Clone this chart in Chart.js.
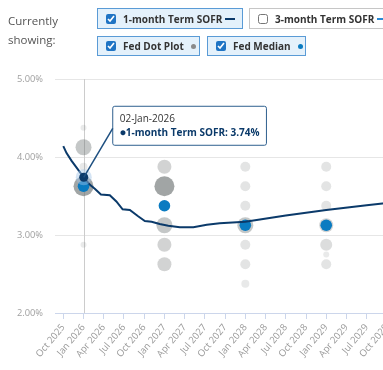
<!DOCTYPE html>
<html><head><meta charset="utf-8">
<script src="https://cdn.jsdelivr.net/npm/chart.js@4"></script>
<style>
html,body{margin:0;padding:0;width:383px;height:370px;overflow:hidden;background:#fff;font-family:"Open Sans",Lato,sans-serif;}
#wrap{position:absolute;left:0;top:0;width:440px;height:370px;}
.cap{position:absolute;left:8px;color:#555;font-size:11.5px;line-height:16px;}
.btn{position:absolute;box-sizing:border-box;border:1px solid #5a9bd6;background:#e4f1fb;font-weight:bold;font-size:10px;color:#333;display:flex;align-items:center;padding-left:8px;white-space:nowrap;}
.btn.off{background:#fff;border-color:#c6c6c6;}
.btn input{width:10px;height:10px;margin:0 7px 0 0;accent-color:#1f74c4;}
.dash{display:inline-block;width:10px;height:2px;margin-left:3px;}
.dot{display:inline-block;width:5px;height:5px;border-radius:50%;margin-left:7px;}
</style></head>
<body>
<div id="wrap"><canvas id="c"></canvas></div>
<div class="cap" style="top:13px">Currently</div>
<div class="cap" style="top:32px">showing:</div>
<div class="btn" style="left:97px;top:8px;width:146px;height:21px"><input type="checkbox" checked>1-month Term SOFR<span class="dash" style="background:#0b3a6a"></span></div>
<div class="btn off" style="left:249px;top:8px;width:150px;height:21px"><input type="checkbox">3-month Term SOFR<span class="dash" style="background:#2b8ad6"></span></div>
<div class="btn" style="left:97px;top:36px;width:103px;height:20px"><input type="checkbox" checked>Fed Dot Plot<span class="dot" style="background:#8a8a8a"></span></div>
<div class="btn" style="left:207px;top:36px;width:99px;height:20px"><input type="checkbox" checked>Fed Median<span class="dot" style="background:#0a7bc1"></span></div>
<script>
// ---- data ----
const xTickLabels = ['Oct 2025','Jan 2026','Apr 2026','Jul 2026','Oct 2026','Jan 2027','Apr 2027','Jul 2027','Oct 2027','Jan 2028','Apr 2028','Jul 2028','Oct 2028','Jan 2029','Apr 2029','Jul 2029','Oct 2029'];
const yTicks = [2, 3, 4, 5];
const sofrDates = ['2025-10-01','2025-10-16','2025-11-08','2025-12-01','2026-01-02','2026-02-01','2026-02-21','2026-03-19','2026-04-28','2026-05-28','2026-06-25','2026-07-28','2026-09-04','2026-10-04','2026-11-04','2026-12-10','2027-01-19','2027-03-10','2027-05-10','2027-07-10','2027-09-07','2028-01-01','2028-07-01','2029-01-01','2029-07-01','2029-10-01','2030-01-01'];
const sofrRates = [4.14,4.05,3.95,3.86,3.74,3.64,3.59,3.52,3.51,3.43,3.33,3.32,3.24,3.18,3.17,3.14,3.12,3.10,3.10,3.13,3.15,3.17,3.25,3.32,3.38,3.41,3.44];
const dotYears  = [2025,2025,2025,2025,2025, 2026,2026,2026,2026,2026, 2027,2027,2027,2027,2027,2027,2027, 2028,2028,2028,2028,2028,2028,2028];
const dotRates  = [4.375,4.125,3.875,3.625,2.875, 3.875,3.625,3.125,2.875,2.625, 3.875,3.625,3.375,3.125,2.875,2.625,2.375, 3.875,3.625,3.375,3.125,2.875,2.75,2.625];
const dotCounts = [1,6,2,8,1, 5,8,6,5,5, 3,3,3,6,3,3,2, 3,3,3,5,4,1,3];
const medianYears = [2025,2026,2027,2028];
const medianRates = [3.625,3.375,3.125,3.125];
const hoverDate = '2026-01-02';
const seriesName = '1-month Term SOFR';

// ---- helpers ----
const MONTHS = ['Jan','Feb','Mar','Apr','May','Jun','Jul','Aug','Sep','Oct','Nov','Dec'];
function monthsFromStart(s){
  const [y,m,d] = s.split('-').map(Number);
  const dim = new Date(y, m, 0).getDate();
  return (y-2025)*12 + (m-10) + (d-1)/dim;
}
function fmtDate(s){
  const [y,m,d] = s.split('-').map(Number);
  return String(d).padStart(2,'0') + '-' + MONTHS[m-1] + '-' + y;
}
function yearEnd(y){ return (y-2025)*12 + 3; }
function dotRadius(n){ return 2 + n; }
function dotColor(n){
  const a = 0.15 + 0.5*Math.pow((n-1)/7, 2);
  return 'rgba(110,116,116,' + a.toFixed(3) + ')';
}

const NAVY = '#0b3a6a';
const FONT = '"Open Sans", Lato, sans-serif';
const PX_PER_MONTH = 6.742;
const X_MIN = -1.23;

const sofrData = sofrDates.map((d,i)=>({x: monthsFromStart(d), y: sofrRates[i]}));
const dotData = dotYears.map((y,i)=>({x: yearEnd(y), y: dotRates[i]}));
const medData = medianYears.map((y,i)=>({x: yearEnd(y), y: medianRates[i]}));
const hoverIndex = sofrDates.indexOf(hoverDate);

Chart.Tooltip.positioners.callout = function(items){
  if (!items.length) return false;
  const el = items[0].element;
  return {x: el.x + 31, y: el.y - 71, xAlign: 'left', yAlign: 'top'};
};

const hoverPlugin = {
  id: 'hoverDeco',
  beforeDatasetsDraw(chart){
    const act = chart.getActiveElements();
    if (!act.length) return;
    const el = act[0].element, ca = chart.chartArea, ctx = chart.ctx;
    ctx.save();
    ctx.strokeStyle = '#cccccc'; ctx.lineWidth = 1;
    ctx.beginPath(); ctx.moveTo(Math.round(el.x)+0.5, ca.top); ctx.lineTo(Math.round(el.x)+0.5, ca.bottom); ctx.stroke();
    ctx.restore();
  },
  afterDatasetsDraw(chart){
    const act = chart.getActiveElements();
    if (!act.length) return;
    const el = act[0].element, ctx = chart.ctx;
    ctx.save();
    ctx.fillStyle = 'rgba(160,195,230,0.45)';
    ctx.beginPath(); ctx.arc(el.x, el.y, 8, 0, Math.PI*2); ctx.fill();
    ctx.fillStyle = NAVY;
    ctx.beginPath(); ctx.arc(el.x, el.y, 4.5, 0, Math.PI*2); ctx.fill();
    ctx.restore();
  },
  afterTooltipDraw(chart, args){
    const tt = args.tooltip;
    const act = chart.getActiveElements();
    if (!act.length || !tt.opacity) return;
    const el = act[0].element, ctx = chart.ctx;
    ctx.save();
    ctx.strokeStyle = '#1d4f80'; ctx.lineWidth = 1.5;
    ctx.beginPath(); ctx.moveTo(el.x, el.y); ctx.lineTo(tt.x, tt.y + 22); ctx.stroke();
    ctx.restore();
  }
};

const chart = new Chart(document.getElementById('c'), {
  type: 'scatter',
  data: {
    datasets: [
      {label: seriesName, type: 'line', data: sofrData, borderColor: NAVY, backgroundColor: NAVY, borderWidth: 2, pointRadius: 0, pointHoverRadius: 0, tension: 0, order: 0},
      {label: 'Fed Median', data: medData, backgroundColor: '#0a7bc1', borderWidth: 0, pointRadius: 5.8, pointHoverRadius: 5.8, order: 1},
      {label: 'Fed Dot Plot', data: dotData, backgroundColor: ctx => dotColor(dotCounts[ctx.dataIndex]), borderWidth: 0,
        pointRadius: ctx => dotRadius(dotCounts[ctx.dataIndex]), pointHoverRadius: ctx => dotRadius(dotCounts[ctx.dataIndex]), order: 2}
    ]
  },
  options: {
    responsive: true, maintainAspectRatio: false, animation: false, events: [],
    layout: {padding: {top: 79, left: 0, right: 0, bottom: 0}},
    plugins: {
      legend: {display: false},
      tooltip: {
        position: 'callout', filter: it => it.datasetIndex === 0,
        backgroundColor: '#ffffff', borderColor: '#2e5f8e', borderWidth: 1, cornerRadius: 2,
        caretSize: 0, caretPadding: 0, displayColors: false,
        padding: {left: 7, right: 7, top: 7, bottom: 6},
        titleColor: '#333333', titleFont: {family: FONT, size: 10, weight: 'normal'}, titleMarginBottom: 2,
        bodyColor: NAVY, bodyFont: {family: FONT, size: 10, weight: 'bold'},
        callbacks: {
          title: items => fmtDate(sofrDates[items[0].dataIndex]),
          label: it => '\u25CF' + seriesName + ': ' + it.parsed.y.toFixed(2) + '%'
        }
      }
    },
    scales: {
      x: {
        type: 'linear', min: X_MIN, max: 50,
        afterBuildTicks: s => { s.ticks = xTickLabels.map((l,i)=>({value: i*3})); },
        afterFit: s => { s.height = 57; },
        ticks: {callback: (v) => xTickLabels[Math.round(v/3)], minRotation: 50, maxRotation: 50, color: '#9a9a9a', font: {family: FONT, size: 9.5}, padding: 3, autoSkip: false},
        grid: {drawOnChartArea: false, drawTicks: true, tickLength: 6, color: '#ccd6eb'},
        border: {color: '#ccd6eb'}
      },
      y: {
        min: 2, max: 5,
        afterBuildTicks: s => { s.ticks = yTicks.map(v=>({value: v})); },
        afterFit: s => { s.width = 55; },
        ticks: {callback: v => v.toFixed(2) + '%', color: '#a0a0a0', font: {family: FONT, size: 9.3}, padding: 12},
        grid: {color: '#e6e6e6', drawTicks: false},
        border: {display: false}
      }
    }
  },
  plugins: [hoverPlugin]
});

const ca = chart.chartArea;
chart.options.scales.x.max = X_MIN + (ca.right - ca.left) / PX_PER_MONTH;
chart.update();
const act = [{datasetIndex: 0, index: hoverIndex}];
chart.setActiveElements(act);
chart.tooltip.setActiveElements(act, {x: 0, y: 0});
chart.update();
</script>
</body></html>
